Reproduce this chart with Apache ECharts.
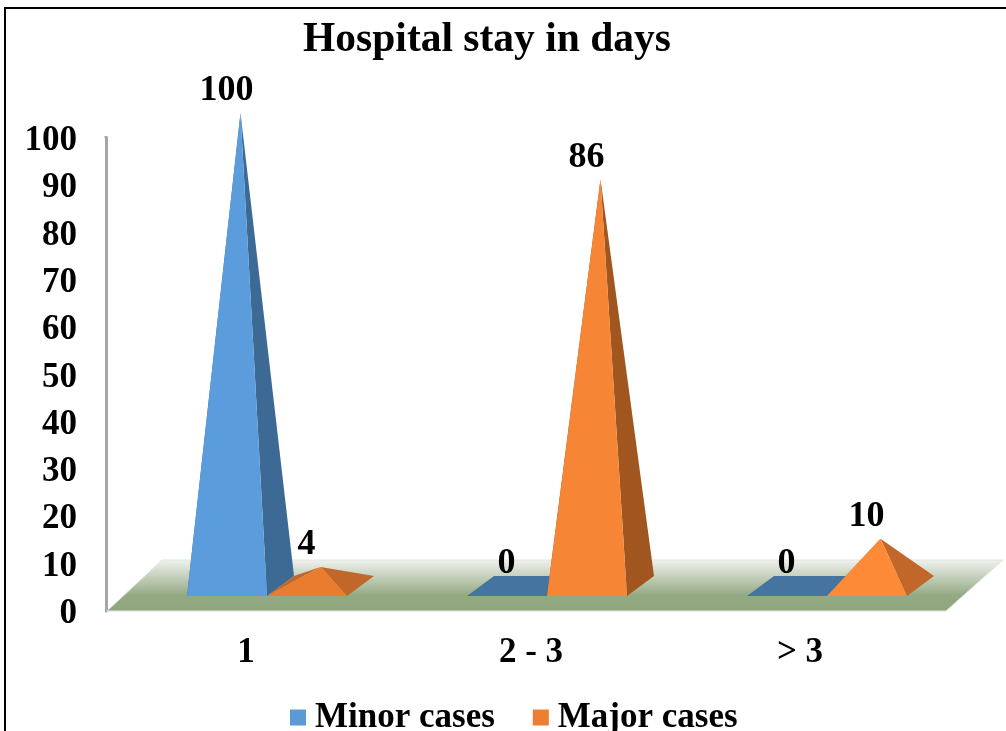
<!DOCTYPE html>
<html>
<head>
<meta charset="utf-8">
<title>Hospital stay in days</title>
<script src="https://cdn.jsdelivr.net/npm/echarts@6/dist/echarts.min.js"></script>
<style>
  html, body { margin: 0; padding: 0; background: #fff; overflow: hidden; }
  #main { position: absolute; left: 0; top: 0; width: 1006px; height: 731px; }
  #frame { position: absolute; left: 4px; top: 7px; right: 0; bottom: 0; border-left: 2px solid #000; border-top: 2px solid #000; }
</style>
</head>
<body>
<div id="frame"></div>
<div id="main"></div>
<script>
const categories = ['1', '2 - 3', '> 3'];
const minorCases = [100, 0, 0];
const majorCases = [4, 86, 10];
const yTicks = [0, 10, 20, 30, 40, 50, 60, 70, 80, 90, 100];

// 透视用的像素偏移
const baseW = 80, depthX = 27, depthY = 20;
const shiftX = 21, shiftY = 15;
const fontName = '"Liberation Serif", serif';

const minorColors = { front: ['#5b9ddc', '#5b9ddc', '#5b9ddc'], side: ['#3d6a95', '#3d6a95', '#3d6a95'], flat: '#44749f' };
const majorColors = { front: ['#ea7c30', '#f68536', '#fd8a37'], side: ['#c2672a', '#a0561e', '#c2672a'], flat: '#c2672a' };

// 画一个金字塔，offset: -1 在类目中心左边，0 在右边
function pyramid(offset, colors) {
  return function (params, api) {
    const idx = api.value(0);
    const v = api.value(1);
    const p0 = api.coord([idx, 0]);
    const pv = api.coord([idx, v]);
    const h = p0[1] - pv[1];
    const fl = p0[0] + shiftX + offset * baseW;
    const fr = fl + baseW;
    const y0 = p0[1] - shiftY;
    const apex = [fl + baseW / 2 + depthX / 2, y0 - depthY / 2 - h];
    const bl = [fl + depthX, y0 - depthY];
    const br = [fr + depthX, y0 - depthY];
    const face = (points, fill) => ({ type: 'polygon', shape: { points: points }, style: { fill: fill } });
    const children = [];
    if (v === 0) {
      children.push(face([[fl, y0], [fr, y0], br, bl], colors.flat));
    } else {
      children.push(face([[fl, y0], bl, apex], colors.side[idx]));
      children.push(face([[fr, y0], br, apex], colors.side[idx]));
      children.push(face([[fl, y0], [fr, y0], apex], colors.front[idx]));
    }
    children.push({
      type: 'text',
      style: {
        x: apex[0] - 14, y: apex[1] - 22, text: String(v),
        fill: '#000', font: 'bold 36px ' + fontName, align: 'center', verticalAlign: 'middle'
      }
    });
    return { type: 'group', children: children };
  };
}

// 底面
function floor(params, api) {
  const a = api.coord([0, 0]);
  const top = api.coord([0, yTicks[yTicks.length - 1]]);
  const size = api.size([1, 0]);
  const left = a[0] - size[0] / 2 + 1;
  const right = left + size[0] * categories.length - 1;
  const y = a[1];
  return {
    type: 'group',
    children: [
      {
        type: 'polygon',
        shape: { points: [[left, y], [right, y], [right + 57, y - 51], [left + 55, y - 51]] },
        style: {
          fill: new echarts.graphic.LinearGradient(0, 0, 0, 1, [
            { offset: 0, color: '#f1f2ef' },
            { offset: 0.7, color: '#92a982' },
            { offset: 1, color: '#8fa67f' }
          ]),
          stroke: '#dfe5da', lineWidth: 1
        }
      },
      // 轴线比 100 略长
      {
        type: 'line',
        shape: { x1: left - 1, y1: top[1], x2: left - 1, y2: top[1] - 2 },
        style: { stroke: '#a6a6a6', lineWidth: 3 }
      }
    ]
  };
}

const chart = echarts.init(document.getElementById('main'));
chart.setOption({
  animation: false,
  title: {
    text: 'Hospital stay in days',
    left: 482,
    top: 14,
    textAlign: 'center',
    textStyle: { fontFamily: fontName, fontWeight: 'bold', fontSize: 41.5, color: '#000' }
  },
  legend: {
    data: ['Minor cases', 'Major cases'],
    left: 285,
    top: 695,
    icon: 'rect',
    itemWidth: 16,
    itemHeight: 16,
    itemGap: 38,
    textStyle: { fontFamily: fontName, fontWeight: 'bold', fontSize: 35, color: '#000', padding: [0, 0, 0, 4] }
  },
  grid: { left: 106, right: 60, top: 138, bottom: 120 },
  xAxis: {
    type: 'category',
    data: categories.map((c, i) => ({ value: c, textStyle: { padding: [[0, 0, 0, 0], [0, 0, 0, 10], [0, 12, 0, 0]][i] } })),
    axisLine: { show: false },
    axisTick: { show: false },
    axisLabel: { margin: 24, color: '#000', fontFamily: fontName, fontWeight: 'bold', fontSize: 35 }
  },
  yAxis: {
    type: 'value',
    min: yTicks[0],
    max: yTicks[yTicks.length - 1],
    interval: 10,
    splitLine: { show: false },
    axisTick: { show: false },
    axisLine: { show: true, lineStyle: { color: '#a6a6a6', width: 3 } },
    axisLabel: { margin: 29, verticalAlign: 'top', lineHeight: 6, color: '#000', fontFamily: fontName, fontWeight: 'bold', fontSize: 35 }
  },
  series: [
    {
      name: 'floor',
      type: 'custom',
      clip: false,
      silent: true,
      renderItem: floor,
      data: [[0, 0]],
      encode: { x: 0, y: 1 }
    },
    {
      name: 'Minor cases',
      type: 'custom',
      clip: false,
      renderItem: pyramid(-1, minorColors),
      itemStyle: { color: '#5b9bd5' },
      data: minorCases.map((v, i) => [i, v]),
      encode: { x: 0, y: 1 }
    },
    {
      name: 'Major cases',
      type: 'custom',
      clip: false,
      renderItem: pyramid(0, majorColors),
      itemStyle: { color: '#ed7d31' },
      data: majorCases.map((v, i) => [i, v]),
      encode: { x: 0, y: 1 }
    }
  ]
});
</script>
</body>
</html>
